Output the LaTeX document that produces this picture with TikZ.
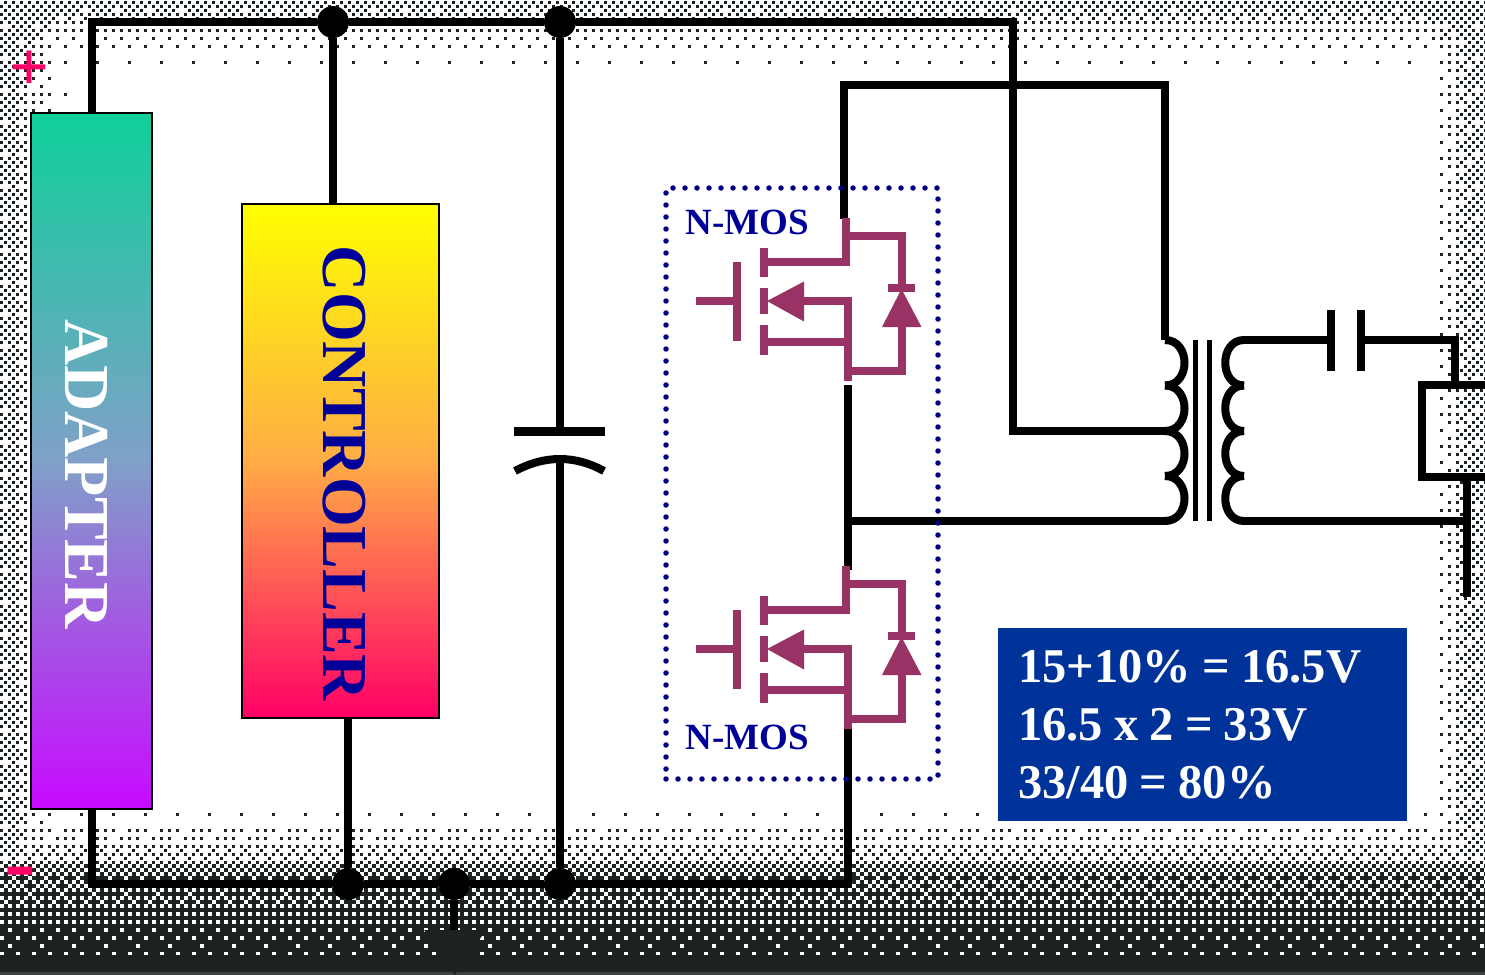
\documentclass[tikz,border=0pt]{standalone}
\usepackage{fontspec}
\usepackage{xcolor}
\setmainfont{Liberation Serif}
\definecolor{mosred}{HTML}{993366}
\definecolor{boxnavy}{HTML}{000080}
\definecolor{labelblue}{HTML}{000099}
\definecolor{calcblue}{HTML}{003399}
\definecolor{signred}{HTML}{FF0066}
\definecolor{nightgray}{HTML}{1C2322}
\definecolor{adaptertop}{RGB}{15,208,155}
\definecolor{adaptermid}{RGB}{128,160,200}
\definecolor{adapterbot}{RGB}{200,10,255}
\definecolor{controlmid}{RGB}{255,172,70}

% threshold table of the screen behind the circuit
\newcommand{\screenval}[1]{\ifcase#1 0\or32\or8\or40\or2\or34\or10\or42\or48\or16\or56\or24\or50\or18\or58\or26\or12\or44\or4\or36\or14\or46\or6\or38\or60\or28\or52\or20\or62\or30\or54\or22\or3\or35\or11\or43\or1\or33\or9\or41\or51\or19\or59\or27\or49\or17\or57\or25\or15\or47\or7\or39\or13\or45\or5\or37\or63\or31\or55\or23\or61\or29\or53\or21\fi}
\newcommand{\sqramp}[3]{\ifnum\numexpr#1\relax>0 \numexpr(#1)*(#1)/#2*#3/#2\relax\else 0\fi}
\newcommand{\modeight}[1]{\numexpr#1-8*((2*(#1)-7)/16)\relax}
\newcount\darkval
\newcount\lowval
\newdimen\dotsize
\newcommand{\screendot}[2]{%
  \darkval=\numexpr\sqramp{70-4*#1}{70}{44}+\sqramp{75-4*#2}{75}{44}+\sqramp{4*#2-1412}{73}{44}\relax
  \ifnum\darkval>31 \darkval=31 \fi
  \ifnum#1<217 \lowval=\sqramp{4*#1-795}{70}{32}\relax
  \else \lowval=\numexpr32+(4*#1-865)*32/100\relax \fi
  \ifnum\lowval>\darkval \darkval=\lowval \fi
  \ifnum\darkval>\screenval{\numexpr8*\modeight{#1}+\modeight{#2}\relax}\relax
    \ifnum\darkval<32 \dotsize=2.6pt \else \dotsize=4.2pt \fi
    \pgfpathrectangle{\pgfpoint{4pt*#2}{-4pt*#1}}{\pgfpoint{\dotsize}{\dotsize}}%
    \pgfusepath{fill}%
  \fi}

\tikzset{
  wire/.style={line width=8pt,line cap=butt,line join=miter},
  mosline/.style={line width=8pt,color=mosred},
  junction/.style={circle,fill=black,inner sep=0pt,minimum size=32pt},
  barlabel/.style={font=\fontsize{#1}{#1}\selectfont\bfseries,rotate=-90},
  moslabel/.style={font=\fontsize{37}{37}\selectfont\bfseries,text=labelblue,inner sep=0pt},
}

\begin{document}
\begin{tikzpicture}[x=1pt,y=-1pt]
\useasboundingbox (0,0) rectangle (1485,974);
% background
\shade [top color=nightgray,bottom color=nightgray!85!white] (0,955) rectangle (1485,974);
\pgfsetfillcolor{nightgray}
\foreach \row in {0,...,18}{\foreach \col in {0,...,371}{\screendot{\row}{\col}}}
\foreach \row in {19,...,197}{
  \foreach \col in {0,...,18}{\screendot{\row}{\col}}
  \foreach \col in {353,...,371}{\screendot{\row}{\col}}
}
\foreach \row in {198,...,243}{\foreach \col in {0,...,371}{\screendot{\row}{\col}}}

% blocks
\node (adapter) [minimum width=120pt,minimum height=695pt,inner sep=0pt] at (91.5,461) {};
\shade [top color=adaptertop,bottom color=adapterbot,middle color=adaptermid,draw=black,line width=2pt]
  (adapter.north west) rectangle (adapter.south east);
\node (adapterlabel) [barlabel=64,text=white] at (87,474) {ADAPTER};
\node (controller) [minimum width=197pt,minimum height=514pt,inner sep=0pt] at (340.5,461) {};
\shade [top color=yellow,bottom color=signred,middle color=controlmid,draw=black,line width=2pt]
  (controller.north west) rectangle (controller.south east);
\node (controllerlabel) [barlabel=64,text=labelblue] at (344.5,473.5) {CONTROLLER};

% junctions and corners
\node (topa) [junction] at (333,22) {};
\node (topb) [junction] at (560,22) {};
\node (gnda) [junction] at (348,884) {};
\node (gndb) [junction] at (454,884) {};
\node (gndc) [junction] at (560,884) {};
\coordinate (capa) at (560,431);
\coordinate (capb) at (560,460);
\coordinate (prima) at (1165,340);
\coordinate (primb) at (1167,431);
\coordinate (primc) at (1167,521);
\coordinate (seca) at (1243,340);
\coordinate (secc) at (1243,521);
\coordinate (hsd) at (844,219);
\coordinate (lss) at (848,725);
\coordinate (mid) at (848,521);
\coordinate (capl) at (1331,340);
\coordinate (capr) at (1361,340);
\coordinate (load) at (1467,477);

% wires
\draw [wire] (adapter.north) -- (91.5,22) -- (topa) -- (topb) -- (1013,22) -- (1013,431) -- (primb);
\draw [wire] (adapter.south) -- (91.5,884) -- (gnda) -- (gndb) -- (gndc) -- (lss |- gndc) -- (lss);
\draw [wire] (topa) -- (topa |- controller.north);
\draw [wire] (gnda) -- (gnda |- controller.south);
\draw [wire] (topb) -- (capa);
\draw [wire] (capb) -- (gndc);
\draw [wire] (hsd) -- (844,85) -- (1165,85) -- (prima);
\draw [wire] (848,385) -- (848,570);
\draw [wire] (mid) -- (primc);
\draw [wire] (gndb) -- (454,935);
\fill (424,930) -- (486,930) -- (455,975) -- cycle;

% bus capacitor
\draw [line width=9pt] (514,431) -- (605,431);
\draw [line width=8pt] (515,471) .. controls (545,455) and (575,455) .. (604,471);

% transformer
\foreach \ya/\yb in {340/385.5,385.5/431,431/476,476/521}{
  \draw [line width=8pt] (1165,\ya) .. controls (1191,\ya) and (1191,\yb) .. (1165,\yb);
  \draw [line width=8pt] (1244,\ya) .. controls (1219,\ya) and (1219,\yb) .. (1244,\yb);
}
\draw [line width=5pt] (1195,340) -- (1195,521);
\draw [line width=5pt] (1209.5,340) -- (1209.5,521);

% output side
\draw [wire] (seca) -- (capl);
\draw [wire] (capl |- 0,310) -- (capl |- 0,371);
\draw [wire] (capr |- 0,310) -- (capr |- 0,371);
\draw [wire] (capr) -- (1455,340) -- (1455,385);
\draw [wire] (1485,385) -- (1421.5,385) -- (1421.5,477) -- (1485,477);
\draw [wire] (secc) -- (load |- secc);
\draw [wire] (load) -- (1467,597);

% the two switches
\foreach \dy in {0,348}{
\begin{scope}[yshift=-\dy pt]
\draw [mosline] (696,301) -- (741,301);
\draw [mosline] (737,262) -- (737,341);
\draw [mosline] (764,248) -- (764,277);
\draw [mosline] (764,288) -- (764,314);
\draw [mosline] (764,325) -- (764,355);
\draw [mosline] (764,261.5) -- (845.5,261.5) -- (845.5,218);
\draw [mosline] (845.5,235.5) -- (901.5,235.5) -- (901.5,288);
\draw [mosline] (888,288) -- (915,288);
\fill [mosred] (901.5,289) -- (921.5,327) -- (882,327) -- cycle;
\draw [mosline] (901.5,327) -- (901.5,370.5) -- (847,370.5);
\fill [mosred] (767,301) -- (804,281.5) -- (804,321.5) -- cycle;
\draw [mosline] (804,301) -- (848,301) -- (848,381);
\draw [mosline] (764,341.5) -- (848,341.5);
\end{scope}
}
\node (mosbox) [draw=boxnavy,line width=5.5pt,line cap=round,dash pattern=on 0pt off 12pt,
  minimum width=272pt,minimum height=591pt,inner sep=0pt] at (802,483.5) {};
\node (moslabela) [moslabel] at (747,222) {N-MOS};
\node (moslabelb) [moslabel] at (747,737) {N-MOS};

% text
\node (calcbox) [anchor=north west,fill=calcblue,text=white,minimum width=409pt,minimum height=193pt,
  inner xsep=20pt,inner ysep=9pt,text width=369pt,align=left,font=\fontsize{48.5}{58}\selectfont\bfseries] at (998,628)
  {\spaceskip=0.23em\relax 15+10\% = 16.5V\\16.5 x 2 = 33V\\33/40 = 80\%};
\node (plus) [text=signred,font=\fontsize{70}{70}\selectfont\bfseries,inner sep=0pt] at (29,71) {+};
\node (minus) [text=signred,font=\fontsize{95}{95}\selectfont\bfseries,inner sep=0pt] at (20.5,880) {-};
\end{tikzpicture}
\end{document}
